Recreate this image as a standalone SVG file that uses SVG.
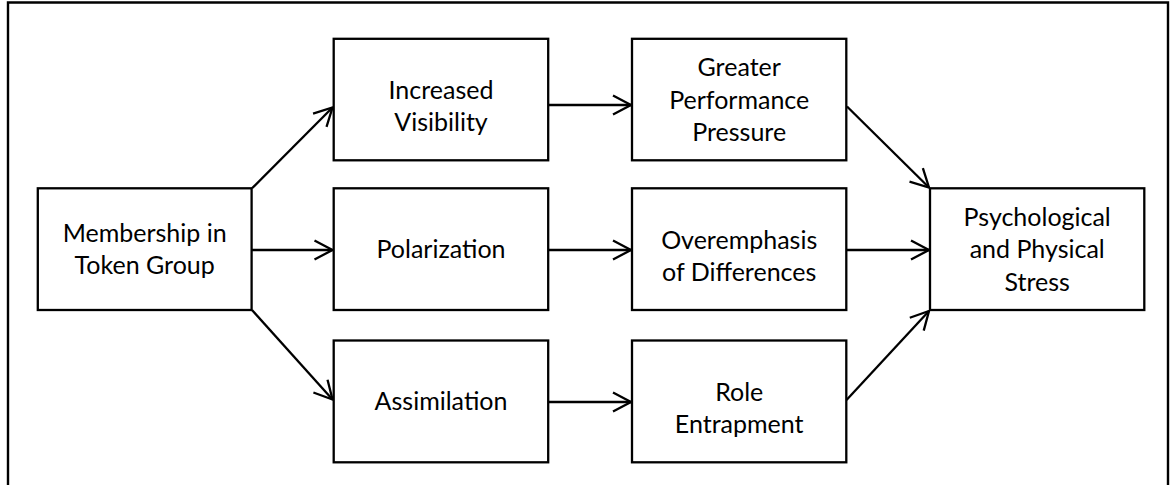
<svg xmlns="http://www.w3.org/2000/svg" width="1171" height="485" viewBox="0 0 1171 485">
  <style>
    .box { fill: #fff; stroke: #000; stroke-width: 2.3; }
    .lbl { font-family: Lato, "Open Sans", sans-serif; font-size: 25px; fill: #000; text-anchor: middle; }
    .edge { fill: none; stroke: #000; stroke-width: 2.3; marker-end: url(#arrow); }
    .frame { fill: none; stroke: #000; stroke-width: 2.4; }
  </style>
  <defs>
    <marker id="arrow" viewBox="0 0 22 22" markerWidth="22" markerHeight="22" refX="20" refY="11" orient="auto" markerUnits="userSpaceOnUse">
      <path d="M2,1.5 L20,11 L2,20.5" fill="none" stroke="#000" stroke-width="2.3" stroke-linejoin="miter"/>
    </marker>
  </defs>

  <rect width="1171" height="485" fill="#fff"/>
  <!-- outer frame, open at the bottom edge -->
  <path class="frame" d="M8,490 V2.5 H1168 V490"/>

  <g id="connectors">
    <line class="edge" x1="252" y1="188.3" x2="332.5" y2="107.5"/>
    <line class="edge" x1="252" y1="250" x2="332.5" y2="250"/>
    <line class="edge" x1="252" y1="310" x2="332.5" y2="399.5"/>
    <line class="edge" x1="548.5" y1="105" x2="631" y2="105"/>
    <line class="edge" x1="548.5" y1="250" x2="631" y2="250"/>
    <line class="edge" x1="548.5" y1="402" x2="631" y2="402"/>
    <line class="edge" x1="847" y1="106.5" x2="929" y2="187.5"/>
    <line class="edge" x1="846.5" y1="250" x2="929" y2="250"/>
    <line class="edge" x1="846.5" y1="400" x2="929" y2="311"/>
  </g>

  <g id="membership">
    <rect class="box" x="37.8" y="188.3" width="213.8" height="121.7"/>
    <text class="lbl" x="144.7" y="242">Membership in</text>
    <text class="lbl" x="144.7" y="274">Token Group</text>
  </g>

  <g id="increased-visibility">
    <rect class="box" x="333.7" y="38.8" width="214.5" height="121.5"/>
    <text class="lbl" x="441" y="99">Increased</text>
    <text class="lbl" x="441" y="131">Visibility</text>
  </g>

  <g id="polarization">
    <rect class="box" x="333.7" y="188.3" width="214.5" height="121.7"/>
    <text class="lbl" x="441" y="258">Polarization</text>
  </g>

  <g id="assimilation">
    <rect class="box" x="333.7" y="340.5" width="214.5" height="121.8"/>
    <text class="lbl" x="441" y="409.5">Assimilation</text>
  </g>

  <g id="performance-pressure">
    <rect class="box" x="632" y="38.8" width="214.3" height="121.5"/>
    <text class="lbl" x="739.2" y="76">Greater</text>
    <text class="lbl" x="739.2" y="108.5">Performance</text>
    <text class="lbl" x="739.2" y="141">Pressure</text>
  </g>

  <g id="overemphasis">
    <rect class="box" x="632" y="188.3" width="214.3" height="121.7"/>
    <text class="lbl" x="739.2" y="249">Overemphasis</text>
    <text class="lbl" x="739.2" y="281">of Differences</text>
  </g>

  <g id="role-entrapment">
    <rect class="box" x="632" y="340.5" width="214.3" height="121.8"/>
    <text class="lbl" x="739.2" y="401">Role</text>
    <text class="lbl" x="739.2" y="433">Entrapment</text>
  </g>

  <g id="stress">
    <rect class="box" x="930" y="188.3" width="214.3" height="121.7"/>
    <text class="lbl" x="1037.2" y="226">Psychological</text>
    <text class="lbl" x="1037.2" y="258.3">and Physical</text>
    <text class="lbl" x="1037.2" y="290.7">Stress</text>
  </g>
</svg>
